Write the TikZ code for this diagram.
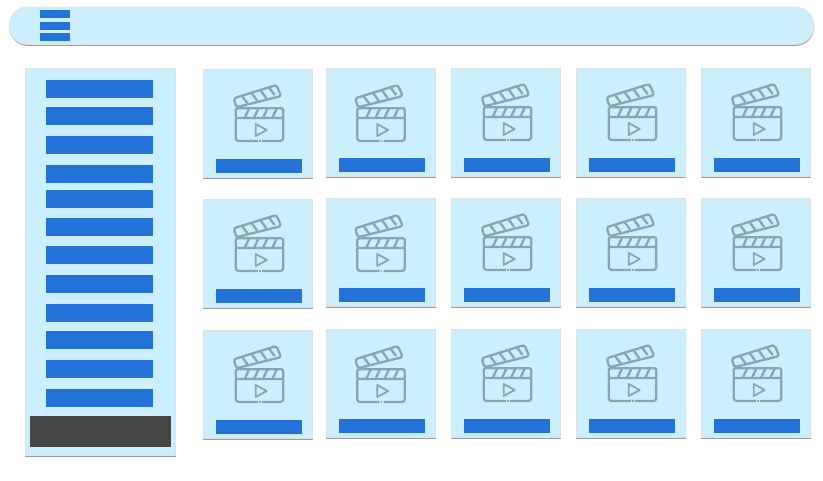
\documentclass[tikz,border=0pt]{standalone}
\usetikzlibrary{shadows}
\definecolor{panelblue}{HTML}{CCEFFE}
\definecolor{barblue}{HTML}{2272DA}
\definecolor{darkbar}{HTML}{464646}
\definecolor{icongray}{HTML}{8AA5AE}
\tikzset{
  panel/.style={fill=panelblue, draw=black!12, line width=0.7pt, inner sep=0pt, outer sep=0pt, anchor=north west,
    drop shadow={shadow xshift=0.2pt, shadow yshift=-1.4pt, fill=black, opacity=0.38}},
  bluebar/.style={fill=barblue, inner sep=0pt, outer sep=0pt, anchor=north west},
  clapper/.pic={
    \begin{scope}[icongray, line width=2.3pt]
      \draw[rounded corners=2pt] (32.7,49) -- (32.7,39.3) -- (80.3,39.3) -- (80.3,49) -- cycle;
      \draw[rounded corners=3pt] (32.7,49) -- (32.7,72) -- (55,72);
      \draw[rounded corners=3pt] (80.3,49) -- (80.3,72) -- (59,72);
      \draw (56.2,72) -- (57.8,72);
      \draw[rounded corners=2.5pt] (33.3,38.3) -- (30.7,29.3) -- (73.3,16) -- (78.3,27) -- cycle;
      \foreach \sx in {41.7,51,60,69.3}
        \draw (\sx,49) -- (\sx+4.5,39.3);
      \draw (39,27) -- (45,35);
      \draw (48.3,23.7) -- (54.3,31.7);
      \draw (57.3,21) -- (63.3,29.3);
      \draw (65.7,18.3) -- (71.7,26);
      \draw[line width=1.8pt, line join=round] (52.7,55) -- (63.7,61) -- (52.7,67) -- cycle;
    \end{scope}
  }
}
\begin{document}
\begin{tikzpicture}[x=1pt,y=-1pt]
  \useasboundingbox (0,0) rectangle (823,480);
  % top bar
  \node[panel, minimum width=805pt, minimum height=37.5pt, rounded corners=18.7pt] (header) at (9,7) {};
  \foreach \by/\bh in {9.5/8.5,22/8,33/8}
    \node[bluebar, minimum width=30pt, minimum height=\bh pt] (menu\by) at (40,\by) {};
  % side list
  \node[panel, minimum width=150.5pt, minimum height=387.5pt] (sidebar) at (25,68) {};
  \foreach \by in {80,107,136,165,190,218,246,275,304,331,360,389}
    \node[bluebar, minimum width=107pt, minimum height=18pt] (item\by) at (46,\by) {};
  \node[fill=darkbar, inner sep=0pt, anchor=north west,
    minimum width=140.5pt, minimum height=31.5pt] (footer) at (30,415.5) {};
  % video cards
  \foreach \cx/\dy/\iy/\ix in {203/1/0/0,326/0/1/-1.5,451/0/0/0,576/0/0/0,701/0/0/0}
    \foreach \cy in {68,198,329} {
      \node[panel, minimum width=109.5pt, minimum height=108.5pt] (card\cx-\cy) at (\cx,\cy+\dy) {};
      \pic at (\cx+\ix,\cy+\dy+\iy) {clapper};
      \node[bluebar, minimum width=86pt, minimum height=14.5pt] (title\cx-\cy) at (\cx+13,\cy+\dy+89.5) {};
    }
\end{tikzpicture}
\end{document}
